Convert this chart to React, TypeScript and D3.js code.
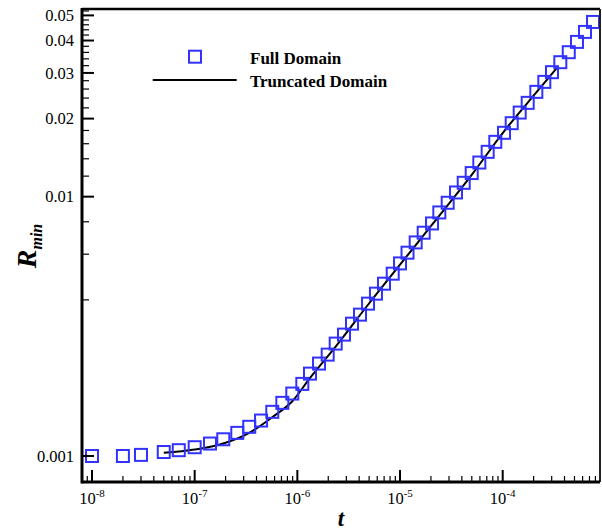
import React from "react";
import * as d3 from "d3";

// Full Domain (squares)
const tFull = [1e-8, 2e-8, 3e-8, 5e-8, 7e-8, 1e-7, 1.41e-7, 1.9e-7, 2.6e-7, 3.4e-7, 4.43e-7, 5.7e-7, 7.14e-7, 8.93e-7, 1.118e-6, 1.328e-6, 1.626e-6, 1.975e-6, 2.363e-6, 2.847e-6, 3.407e-6, 4.076e-6, 4.88e-6, 5.83e-6, 6.98e-6, 8.49e-6, 1.0e-5, 1.183e-5, 1.421e-5, 1.7e-5, 2.05e-5, 2.414e-5, 2.913e-5, 3.51e-5, 4.172e-5, 4.99e-5, 5.92e-5, 7.14e-5, 8.47e-5, 1.03e-4, 1.224e-4, 1.464e-4, 1.752e-4, 2.126e-4, 2.543e-4, 3.02e-4, 3.64e-4, 4.4e-4, 5.29e-4, 6.33e-4, 7.58e-4];
const rFull = [0.001, 0.001, 0.00101, 0.001036, 0.001053, 0.001081, 0.001117, 0.00116, 0.001228, 0.001296, 0.00137, 0.00148, 0.001603, 0.001741, 0.001897, 0.002078, 0.002272, 0.00246, 0.002713, 0.002938, 0.003238, 0.003508, 0.003868, 0.004227, 0.004618, 0.005047, 0.005529, 0.006081, 0.006662, 0.007261, 0.007884, 0.008694, 0.009473, 0.01038, 0.01131, 0.01233, 0.01354, 0.01489, 0.01627, 0.01763, 0.0192, 0.0211, 0.023, 0.02536, 0.02771, 0.0302, 0.033, 0.03606, 0.03952, 0.04318, 0.04718];

// Truncated Domain (line)
const tTrunc = [5e-8, 1e-7, 1.9e-7, 3.4e-7, 5.7e-7, 8.93e-7, 1.33e-6, 2.36e-6, 4.88e-6, 1e-5, 2.05e-5, 4.99e-5, 1.03e-4, 2.126e-4, 3.36e-4];
const rTrunc = [0.001029, 0.001059, 0.001117, 0.001228, 0.001411, 0.001626, 0.002, 0.00264, 0.00383, 0.00547, 0.0078, 0.01214, 0.01785, 0.02524, 0.03129];

const xMajor = [1e-8, 1e-7, 1e-6, 1e-5, 1e-4];
const xExp = ["-8", "-7", "-6", "-5", "-4"];
const yMajor = [0.001, 0.01, 0.02, 0.03, 0.04, 0.05];
const yLabels = ["0.001", "0.01", "0.02", "0.03", "0.04", "0.05"];

const legendLabels = ["Full Domain", "Truncated Domain"];

const W = 602, H = 531;
const L = 82, R = 600, T = 9, B = 482;
const serif = "'Liberation Serif', 'Times New Roman', Times, serif";
const blue = "#3232ff";

export default function App() {
  const x = d3.scaleLog().domain([1e-8, 1e-4]).range([92, 502.7]);
  const y = d3.scaleLog().domain([0.001, 0.05]).range([456, 15.4]);

  const xMinor: number[] = [];
  for (let e = -9; e <= -3; e++) {
    for (let m = 2; m <= 9; m++) {
      const v = m * Math.pow(10, e);
      const px = x(v);
      if (px >= L + 1 && px <= R - 1) xMinor.push(v);
    }
  }
  const yMinor: number[] = [];
  for (let k = 2; k <= 26; k++) {
    const v = k * 0.002;
    if (yMajor.some((m) => Math.abs(m - v) < 1e-9)) continue;
    const py = y(v);
    if (py >= T + 1 && py <= B - 1) yMinor.push(v);
  }

  const line = d3
    .line<number>()
    .x((_, i) => x(tTrunc[i]))
    .y((_, i) => y(rTrunc[i]))
    .curve(d3.curveMonotoneX);

  const sq = 12;

  return (
    <svg width={W} height={H} style={{ position: "absolute", left: 0, top: 0, background: "#fff" }}>
      {/* data line */}
      <path d={line(rTrunc) || ""} fill="none" stroke="#000" strokeWidth={2} />
      {/* squares */}
      {tFull.map((t, i) => (
        <rect
          key={i}
          x={x(t) - sq / 2}
          y={y(rFull[i]) - sq / 2}
          width={sq}
          height={sq}
          fill="none"
          stroke={blue}
          strokeWidth={2}
        />
      ))}

      {/* frame */}
      <line x1={L} x2={R} y1={T} y2={T} stroke="#000" strokeWidth={2.5} />
      <line x1={R} x2={R} y1={T} y2={B} stroke="#222" strokeWidth={2} />
      <line x1={L} x2={R} y1={B} y2={B} stroke="#000" strokeWidth={3} />
      <line x1={L} x2={L} y1={T - 1} y2={B + 1.5} stroke="#000" strokeWidth={3} />

      {/* x ticks */}
      {xMajor.map((v, i) => (
        <g key={"xm" + i}>
          <line x1={x(v)} x2={x(v)} y1={B} y2={B - 12} stroke="#000" strokeWidth={2} />
          <text x={x(v)} y={504} textAnchor="middle" fontFamily={serif} fontSize={16.5}>
            10
            <tspan dy={-7} fontSize={11}>
              {xExp[i]}
            </tspan>
          </text>
        </g>
      ))}
      {xMinor.map((v, i) => (
        <line key={"xn" + i} x1={x(v)} x2={x(v)} y1={B} y2={B - 6} stroke="#000" strokeWidth={1.2} />
      ))}

      {/* y ticks */}
      {yMajor.map((v, i) => (
        <g key={"ym" + i}>
          <line x1={L} x2={L + 12} y1={y(v)} y2={y(v)} stroke="#000" strokeWidth={2} />
          <text x={74} y={y(v)} dy="0.35em" textAnchor="end" fontFamily={serif} fontSize={16.5}>
            {yLabels[i]}
          </text>
        </g>
      ))}
      {yMinor.map((v, i) => (
        <line key={"yn" + i} x1={L} x2={L + 7} y1={y(v)} y2={y(v)} stroke="#000" strokeWidth={1.2} />
      ))}

      {/* axis titles */}
      <text x={341} y={526} textAnchor="middle" fontFamily={serif} fontSize={23} fontWeight="bold" fontStyle="italic">
        t
      </text>
      <text
        transform="translate(36,246) rotate(-90)"
        textAnchor="middle"
        fontFamily={serif}
        fontSize={28}
        fontWeight="bold"
        fontStyle="italic"
      >
        R
        <tspan dy={6} fontSize={16}>
          min
        </tspan>
      </text>

      {/* legend */}
      <rect x={195 - 6} y={56.7 - 6} width={12} height={12} fill="none" stroke={blue} strokeWidth={2} />
      <text x={250} y={63.5} fontFamily={serif} fontSize={17} fontWeight="bold">
        {legendLabels[0]}
      </text>
      <line x1={152.7} x2={236.7} y1={80} y2={80} stroke="#000" strokeWidth={2} />
      <text x={250} y={86.5} fontFamily={serif} fontSize={17} fontWeight="bold">
        {legendLabels[1]}
      </text>
    </svg>
  );
}
